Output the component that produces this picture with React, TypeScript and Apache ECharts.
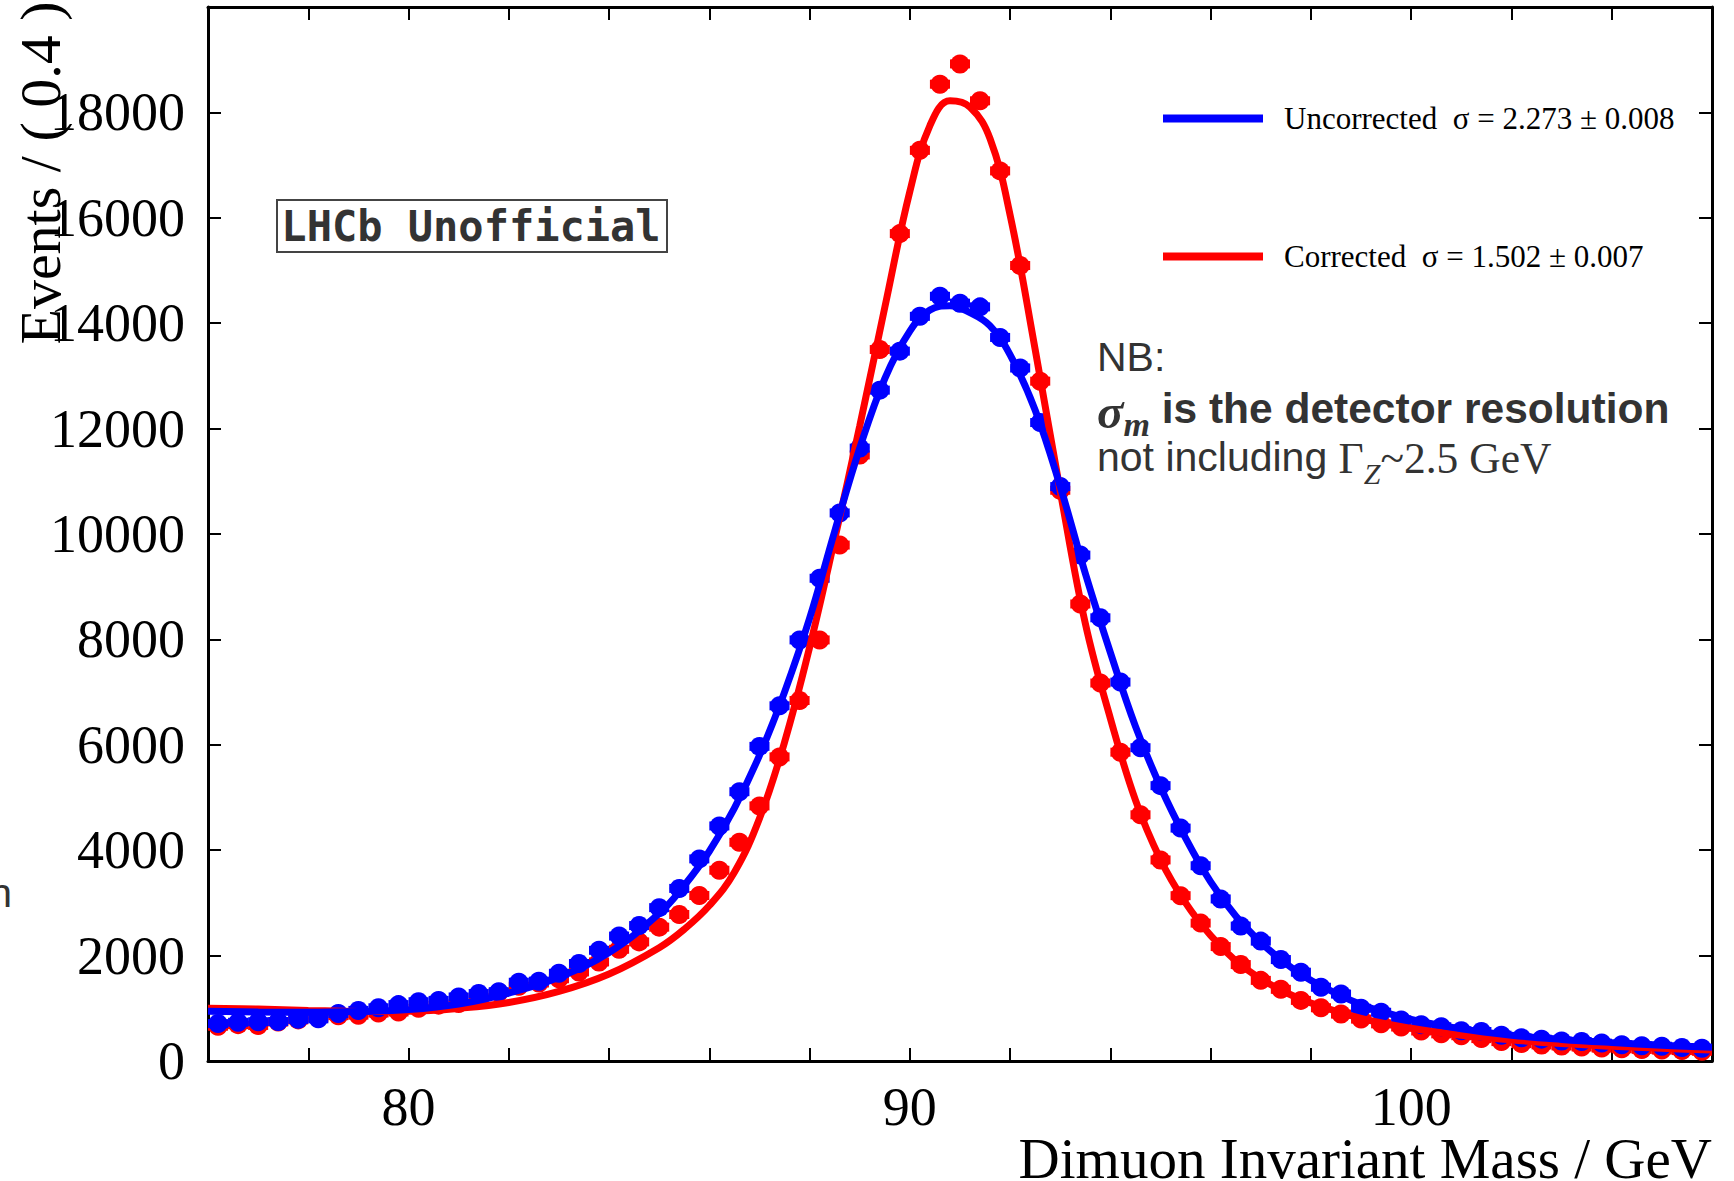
import React, { useEffect, useRef } from 'react';
import * as echarts from 'echarts';

// ---- data ----
const massBins = [
  76.2, 76.6, 77.0, 77.4, 77.8, 78.2, 78.6, 79.0, 79.4, 79.8,
  80.2, 80.6, 81.0, 81.4, 81.8, 82.2, 82.6, 83.0, 83.4, 83.8,
  84.2, 84.6, 85.0, 85.4, 85.8, 86.2, 86.6, 87.0, 87.4, 87.8,
  88.2, 88.6, 89.0, 89.4, 89.8, 90.2, 90.6, 91.0, 91.4, 91.8,
  92.2, 92.6, 93.0, 93.4, 93.8, 94.2, 94.6, 95.0, 95.4, 95.8,
  96.2, 96.6, 97.0, 97.4, 97.8, 98.2, 98.6, 99.0, 99.4, 99.8,
  100.2, 100.6, 101.0, 101.4, 101.8, 102.2, 102.6, 103.0, 103.4, 103.8,
  104.2, 104.6, 105.0, 105.4, 105.8,
];

const uncorrectedCounts = [
  710, 735, 745, 750, 790, 800, 900, 960, 1010, 1070,
  1125, 1150, 1215, 1280, 1315, 1495, 1515, 1665, 1850, 2100,
  2370, 2570, 2910, 3275, 3835, 4460, 5110, 5970, 6740, 7990,
  9160, 10400, 11630, 12730, 13470, 14130, 14510, 14380, 14310, 13730,
  13150, 12115, 10900, 9600, 8410, 7190, 5945, 5225, 4420, 3705,
  3075, 2560, 2275, 1925, 1685, 1400, 1270, 1000, 925, 780,
  690, 650, 575, 560, 490, 440, 415, 380, 370, 340,
  310, 290, 280, 255, 240,
];

const correctedCounts = [
  660, 690, 675, 740, 780, 820, 860, 870, 910, 930,
  1000, 1060, 1090, 1200, 1300, 1420, 1480, 1560, 1690, 1880,
  2120, 2260, 2540, 2780, 3140, 3620, 4150, 4840, 5770, 6840,
  7990, 9790, 11500, 13500, 15700, 17280, 18535, 18920, 18220, 16890,
  15095, 12900, 10830, 8672, 7172, 5860, 4672, 3815, 3137, 2617,
  2171, 1830, 1530, 1360, 1150, 1010, 890, 795, 705, 645,
  570, 515, 480, 425, 368, 330, 305, 285, 265, 245,
  232, 220, 208, 198, 185,
];

const fitMass = [
  76, 77, 78, 79, 80, 81, 82, 83, 84, 85, 85.5, 86, 86.5, 87, 87.5,
  88, 88.5, 89, 89.5, 90, 90.4, 90.8, 91.2, 91.6, 92, 92.5, 93, 93.5,
  94, 94.5, 95, 95.5, 96, 96.5, 97, 97.5, 98, 99, 100, 101, 102, 103,
  104, 105, 106,
];

const uncorrectedFit = [
  945, 930, 925, 940, 975, 1080, 1290, 1590, 2060, 2800, 3330, 3980, 4800, 5800, 7000,
  8400, 10050, 11630, 12950, 13850, 14250, 14330, 14200, 13950, 13400, 12350, 10900, 9250,
  7750, 6350, 5200, 4230, 3400, 2750, 2250, 1850, 1530, 1070, 790, 610, 490, 410,
  350, 300, 260,
];

const correctedFit = [
  1000, 985, 960, 940, 945, 1000, 1110, 1320, 1650, 2150, 2500, 2950, 3580, 4600, 6050,
  7850, 9900, 12050, 14300, 16500, 17750, 18220, 18100, 17500, 16050, 13500, 10810, 8300,
  6500, 4950, 3820, 3000, 2380, 1900, 1560, 1300, 1100, 810, 620, 490, 400, 330,
  280, 240, 210,
];

const xTickLabels = [80, 90, 100];
const yTickLabels = [0, 2000, 4000, 6000, 8000, 10000, 12000, 14000, 16000, 18000];

const UNCORR_NAME = 'Uncorrected  σ = 2.273 ± 0.008';
const CORR_NAME = 'Corrected  σ = 1.502 ± 0.007';

const BLUE = '#0000ff';
const RED = '#ff0000';
const SERIF = "'Liberation Serif', 'Times New Roman', serif";
const SANS = "'Liberation Sans', Arial, sans-serif";
const HALF_BIN = 0.2;

function makeRender(color: string) {
  return (params: any, api: any) => {
    const x = api.value(0);
    const y = api.value(1);
    const c = api.coord([x, y]);
    const l = api.coord([x - HALF_BIN, y]);
    const r = api.coord([x + HALF_BIN, y]);
    return {
      type: 'group',
      children: [
        {
          type: 'rect',
          shape: { x: l[0], y: c[1] - 4.5, width: r[0] - l[0], height: 9 },
          style: { fill: color },
        },
        {
          type: 'circle',
          shape: { cx: c[0], cy: c[1], r: 9.5 },
          style: { fill: color },
        },
      ],
    };
  };
}

const axisLineStyle = { show: true, onZero: false, lineStyle: { color: '#000', width: 3 } };
const axisTickStyle = { show: true, inside: true, length: 13, lineStyle: { color: '#000', width: 2 } };

export default function App() {
  const ref = useRef<HTMLDivElement>(null);

  useEffect(() => {
    document.body.style.margin = '0';
    document.body.style.overflow = 'hidden';
    if (!ref.current) return;
    const chart = echarts.init(ref.current, null, { renderer: 'svg' });

    const option: any = {
      animation: false,
      backgroundColor: '#ffffff',
      grid: { left: 208, top: 7, right: 22, bottom: 120, containLabel: false },
      legend: {
        data: [UNCORR_NAME, CORR_NAME],
        orient: 'vertical',
        left: 1158,
        top: 98,
        itemWidth: 100,
        itemHeight: 8,
        itemGap: 107,
        icon: 'rect',
        textStyle: {
          fontFamily: SERIF,
          fontSize: 31,
          color: '#000',
          lineHeight: 30,
          padding: [0, 0, 0, 16],
        },
      },
      xAxis: [
        {
          type: 'value',
          position: 'bottom',
          min: 76,
          max: 106,
          interval: 2,
          axisLine: axisLineStyle,
          axisTick: axisTickStyle,
          splitLine: { show: false },
          axisLabel: {
            fontFamily: SERIF,
            fontSize: 54,
            color: '#000',
            margin: 19,
            formatter: (v: number) => (xTickLabels.includes(v) ? String(v) : ''),
          },
        },
        {
          type: 'value',
          position: 'top',
          min: 76,
          max: 106,
          interval: 2,
          axisLine: axisLineStyle,
          axisTick: axisTickStyle,
          splitLine: { show: false },
          axisLabel: { show: false },
        },
      ],
      yAxis: [
        {
          type: 'value',
          position: 'left',
          min: 0,
          max: 20000,
          interval: 2000,
          axisLine: axisLineStyle,
          axisTick: axisTickStyle,
          splitLine: { show: false },
          axisLabel: {
            fontFamily: SERIF,
            fontSize: 54,
            color: '#000',
            margin: 23,
            formatter: (v: number) => (yTickLabels.includes(v) ? String(v) : ''),
          },
        },
        {
          type: 'value',
          position: 'right',
          min: 0,
          max: 20000,
          interval: 2000,
          axisLine: axisLineStyle,
          axisTick: axisTickStyle,
          splitLine: { show: false },
          axisLabel: { show: false },
        },
      ],
      series: [
        {
          type: 'line',
          name: CORR_NAME,
          data: fitMass.map((m, i) => [m, correctedFit[i]]),
          showSymbol: false,
          smooth: 0.4,
          lineStyle: { color: RED, width: 7 },
          itemStyle: { color: RED },
        },
        {
          type: 'custom',
          name: 'Corrected data',
          data: massBins.map((m, i) => [m, correctedCounts[i]]),
          encode: { x: 0, y: 1 },
          renderItem: makeRender(RED),
          itemStyle: { color: RED },
        },
        {
          type: 'line',
          name: UNCORR_NAME,
          data: fitMass.map((m, i) => [m, uncorrectedFit[i]]),
          showSymbol: false,
          smooth: 0.4,
          lineStyle: { color: BLUE, width: 7 },
          itemStyle: { color: BLUE },
        },
        {
          type: 'custom',
          name: 'Uncorrected data',
          data: massBins.map((m, i) => [m, uncorrectedCounts[i]]),
          encode: { x: 0, y: 1 },
          renderItem: makeRender(BLUE),
          itemStyle: { color: BLUE },
        },
      ],
      graphic: [
        {
          type: 'text',
          x: 40,
          y: 173,
          rotation: Math.PI / 2,
          style: {
            text: 'Events / ( 0.4 )',
            fontFamily: SERIF,
            fontSize: 58,
            fill: '#000',
            align: 'center',
            textAlign: 'center',
            verticalAlign: 'middle',
            textVerticalAlign: 'middle',
          },
        },
        {
          type: 'text',
          x: 1712,
          y: 1158,
          style: {
            text: 'Dimuon Invariant Mass / GeV',
            fontFamily: SERIF,
            fontSize: 57,
            fill: '#000',
            align: 'right',
            textAlign: 'right',
            verticalAlign: 'middle',
            textVerticalAlign: 'middle',
          },
        },
        {
          type: 'rect',
          shape: { x: 277, y: 200, width: 390, height: 52 },
          style: { fill: '#ffffff', stroke: '#444444', lineWidth: 2 },
        },
        {
          type: 'text',
          x: 471,
          y: 226,
          style: {
            text: 'LHCb Unofficial',
            fontFamily: "'DejaVu Sans Mono', monospace",
            fontWeight: 'bold',
            fontSize: 42,
            fill: '#333333',
            align: 'center',
            textAlign: 'center',
            verticalAlign: 'middle',
            textVerticalAlign: 'middle',
          },
        },
        {
          type: 'text',
          x: 1097,
          y: 357,
          style: {
            text: 'NB:',
            fontFamily: SANS,
            fontSize: 41,
            fill: '#333333',
            align: 'left',
            textAlign: 'left',
            verticalAlign: 'middle',
            textVerticalAlign: 'middle',
          },
        },
        {
          type: 'text',
          x: 1097,
          y: 410,
          style: {
            text: '{s|σ}{m|m}{b| is the detector resolution}',
            fill: '#333333',
            align: 'left',
            textAlign: 'left',
            verticalAlign: 'middle',
            textVerticalAlign: 'middle',
            rich: {
              s: { fontFamily: SERIF, fontStyle: 'italic', fontWeight: 'bold', fontSize: 49, lineHeight: 46, verticalAlign: 'top', fill: '#333333' },
              m: { fontFamily: SERIF, fontStyle: 'italic', fontWeight: 'bold', fontSize: 34, lineHeight: 34, padding: [20, 0, 0, 0], verticalAlign: 'top', fill: '#333333' },
              b: { fontFamily: SANS, fontWeight: 'bold', fontSize: 42.5, lineHeight: 46, verticalAlign: 'top', fill: '#333333' },
            },
          },
        },
        {
          type: 'text',
          x: 1097,
          y: 458,
          style: {
            text: '{t|not including }{g|Γ}{z|Z}{r|~2.5 GeV}',
            fill: '#333333',
            align: 'left',
            textAlign: 'left',
            verticalAlign: 'middle',
            textVerticalAlign: 'middle',
            rich: {
              t: { fontFamily: SANS, fontSize: 41, lineHeight: 44, verticalAlign: 'top', fill: '#333333' },
              g: { fontFamily: SERIF, fontSize: 43.5, lineHeight: 44, verticalAlign: 'top', fill: '#333333' },
              z: { fontFamily: SERIF, fontStyle: 'italic', fontSize: 30, lineHeight: 30, padding: [22, 0, 0, 0], verticalAlign: 'top', fill: '#333333' },
              r: { fontFamily: SERIF, fontSize: 43.5, lineHeight: 44, verticalAlign: 'top', fill: '#333333' },
            },
          },
        },
        {
          type: 'text',
          x: 12,
          y: 893,
          style: {
            text: 'n',
            fontFamily: SANS,
            fontSize: 41,
            fill: '#333333',
            align: 'right',
            textAlign: 'right',
            verticalAlign: 'middle',
            textVerticalAlign: 'middle',
          },
        },
      ],
    };

    chart.setOption(option);
    return () => chart.dispose();
  }, []);

  return <div ref={ref} style={{ width: 1734, height: 1181 }} />;
}
